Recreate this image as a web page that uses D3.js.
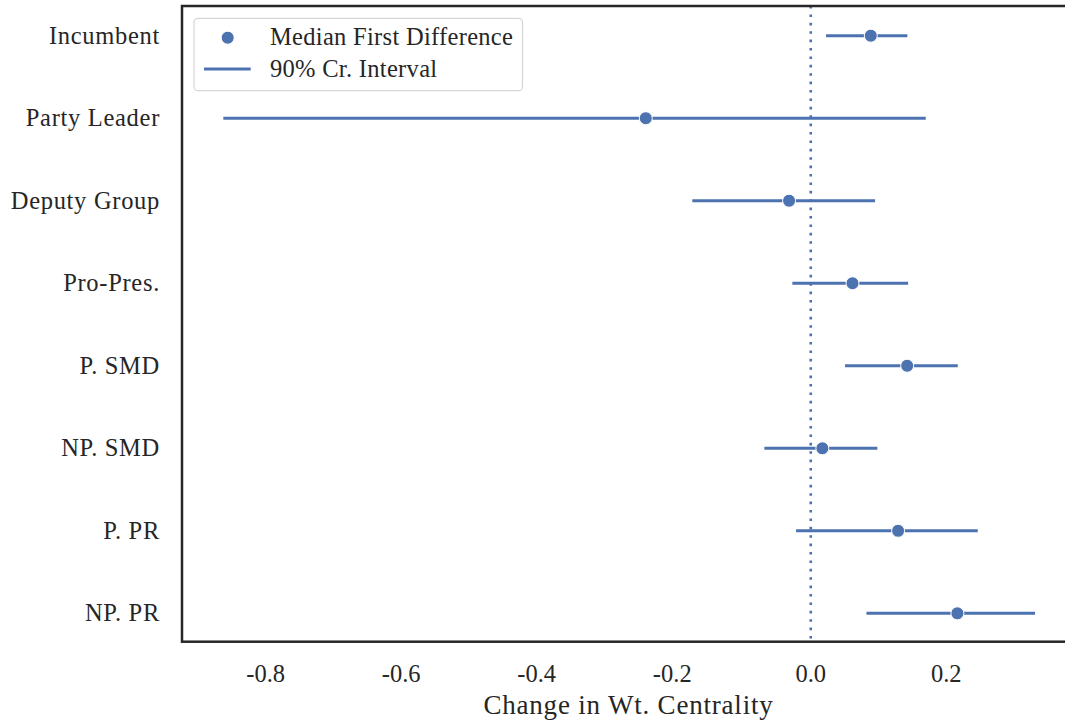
<!DOCTYPE html>
<html>
<head>
<meta charset="utf-8">
<title>first differences</title>
<script src="https://d3js.org/d3.v7.min.js"></script>
<style>
  body { margin: 0; background: #fff; }
  text { font-family: "Liberation Serif", "DejaVu Serif", serif; fill: #262626; }
</style>
</head>
<body>
<script>
// values
var categories = ["Incumbent", "Party Leader", "Deputy Group", "Pro-Pres.", "P. SMD", "NP. SMD", "P. PR", "NP. PR"];
var medians = [0.0886, -0.2435, -0.032, 0.0616, 0.1423, 0.0171, 0.1289, 0.2164];
var lower = [0.0226, -0.867, -0.1748, -0.0272, 0.0506, -0.0685, -0.0217, 0.0822];
var upper = [0.1426, 0.1697, 0.0949, 0.1437, 0.217, 0.0983, 0.2465, 0.331];
var xTicks = [-0.8, -0.6, -0.4, -0.2, 0.0, 0.2];

var width = 1065, height = 721;
var plotL = 182, plotT = 6, plotR = 1075, plotB = 641.7;
var blue = "#4c72b0";
var fs = 24.5;

var svg = d3.select("body").append("svg").attr("width", width).attr("height", height);

var x = d3.scaleLinear().domain([-0.928, 0.390]).range([plotL, plotR]);
var y = d3.scaleLinear().domain([-0.36, 7.344]).range([plotT, plotB]);

var rows = categories.map(function(c, i) {
    return {name: c, i: i, med: medians[i], lo: lower[i], hi: upper[i]};
});

// intervals
svg.append("g").selectAll("line")
    .data(rows)
    .enter()
    .append("line")
    .attr("x1", function(d) { return x(d.lo); })
    .attr("x2", function(d) { return x(d.hi); })
    .attr("y1", function(d) { return y(d.i); })
    .attr("y2", function(d) { return y(d.i); })
    .attr("stroke", blue)
    .attr("stroke-width", 3);

// zero line
svg.append("line")
    .attr("x1", x(0)).attr("x2", x(0))
    .attr("y1", plotT).attr("y2", plotB)
    .attr("stroke", blue)
    .attr("stroke-width", 2.6)
    .attr("stroke-dasharray", "2.6,5.8");

// medians
svg.append("g").selectAll("circle")
    .data(rows)
    .enter()
    .append("circle")
    .attr("cx", function(d) { return x(d.med); })
    .attr("cy", function(d) { return y(d.i); })
    .attr("r", 6.5)
    .attr("fill", blue)
    .attr("stroke", "#fff")
    .attr("stroke-width", 1);

// frame
svg.append("rect")
    .attr("x", plotL).attr("y", plotT)
    .attr("width", plotR - plotL).attr("height", plotB - plotT)
    .attr("fill", "none")
    .attr("stroke", "#262626")
    .attr("stroke-width", 2.5);

// x axis labels
svg.append("g").selectAll("text")
    .data(xTicks)
    .enter()
    .append("text")
    .attr("x", function(d) { return x(d) - (d < 0 ? 3 : 0); })
    .attr("y", 681.5)
    .attr("text-anchor", "middle")
    .attr("font-size", fs)
    .text(function(d) { return d.toFixed(1); });

svg.append("text")
    .attr("x", (plotL + plotR) / 2)
    .attr("y", 714)
    .attr("text-anchor", "middle")
    .attr("font-size", 27)
    .attr("letter-spacing", 0.8)
    .text("Change in Wt. Centrality");

// y labels
svg.append("g").selectAll("text")
    .data(rows)
    .enter()
    .append("text")
    .attr("x", 160)
    .attr("y", function(d) { return y(d.i); })
    .attr("dy", "0.33em")
    .attr("text-anchor", "end")
    .attr("font-size", fs)
    .attr("letter-spacing", 0.7)
    .text(function(d) { return d.name; });

// legend
var lg = svg.append("g");
lg.append("rect")
    .attr("x", 194).attr("y", 18.3)
    .attr("width", 328.5).attr("height", 72.4)
    .attr("rx", 4)
    .attr("fill", "#fff")
    .attr("fill-opacity", 0.8)
    .attr("stroke", "#d6d6d6")
    .attr("stroke-width", 1.2);
lg.append("circle")
    .attr("cx", 227.7).attr("cy", 37.7).attr("r", 6.5)
    .attr("fill", blue).attr("stroke", "#fff").attr("stroke-width", 1);
lg.append("line")
    .attr("x1", 204).attr("x2", 250.7)
    .attr("y1", 69).attr("y2", 69)
    .attr("stroke", blue).attr("stroke-width", 3);
lg.append("text")
    .attr("x", 270).attr("y", 45)
    .attr("font-size", fs)
    .attr("letter-spacing", 0.3)
    .text("Median First Difference");
lg.append("text")
    .attr("x", 270).attr("y", 77)
    .attr("font-size", fs)
    .attr("letter-spacing", 0.3)
    .text("90% Cr. Interval");
</script>
</body>
</html>
